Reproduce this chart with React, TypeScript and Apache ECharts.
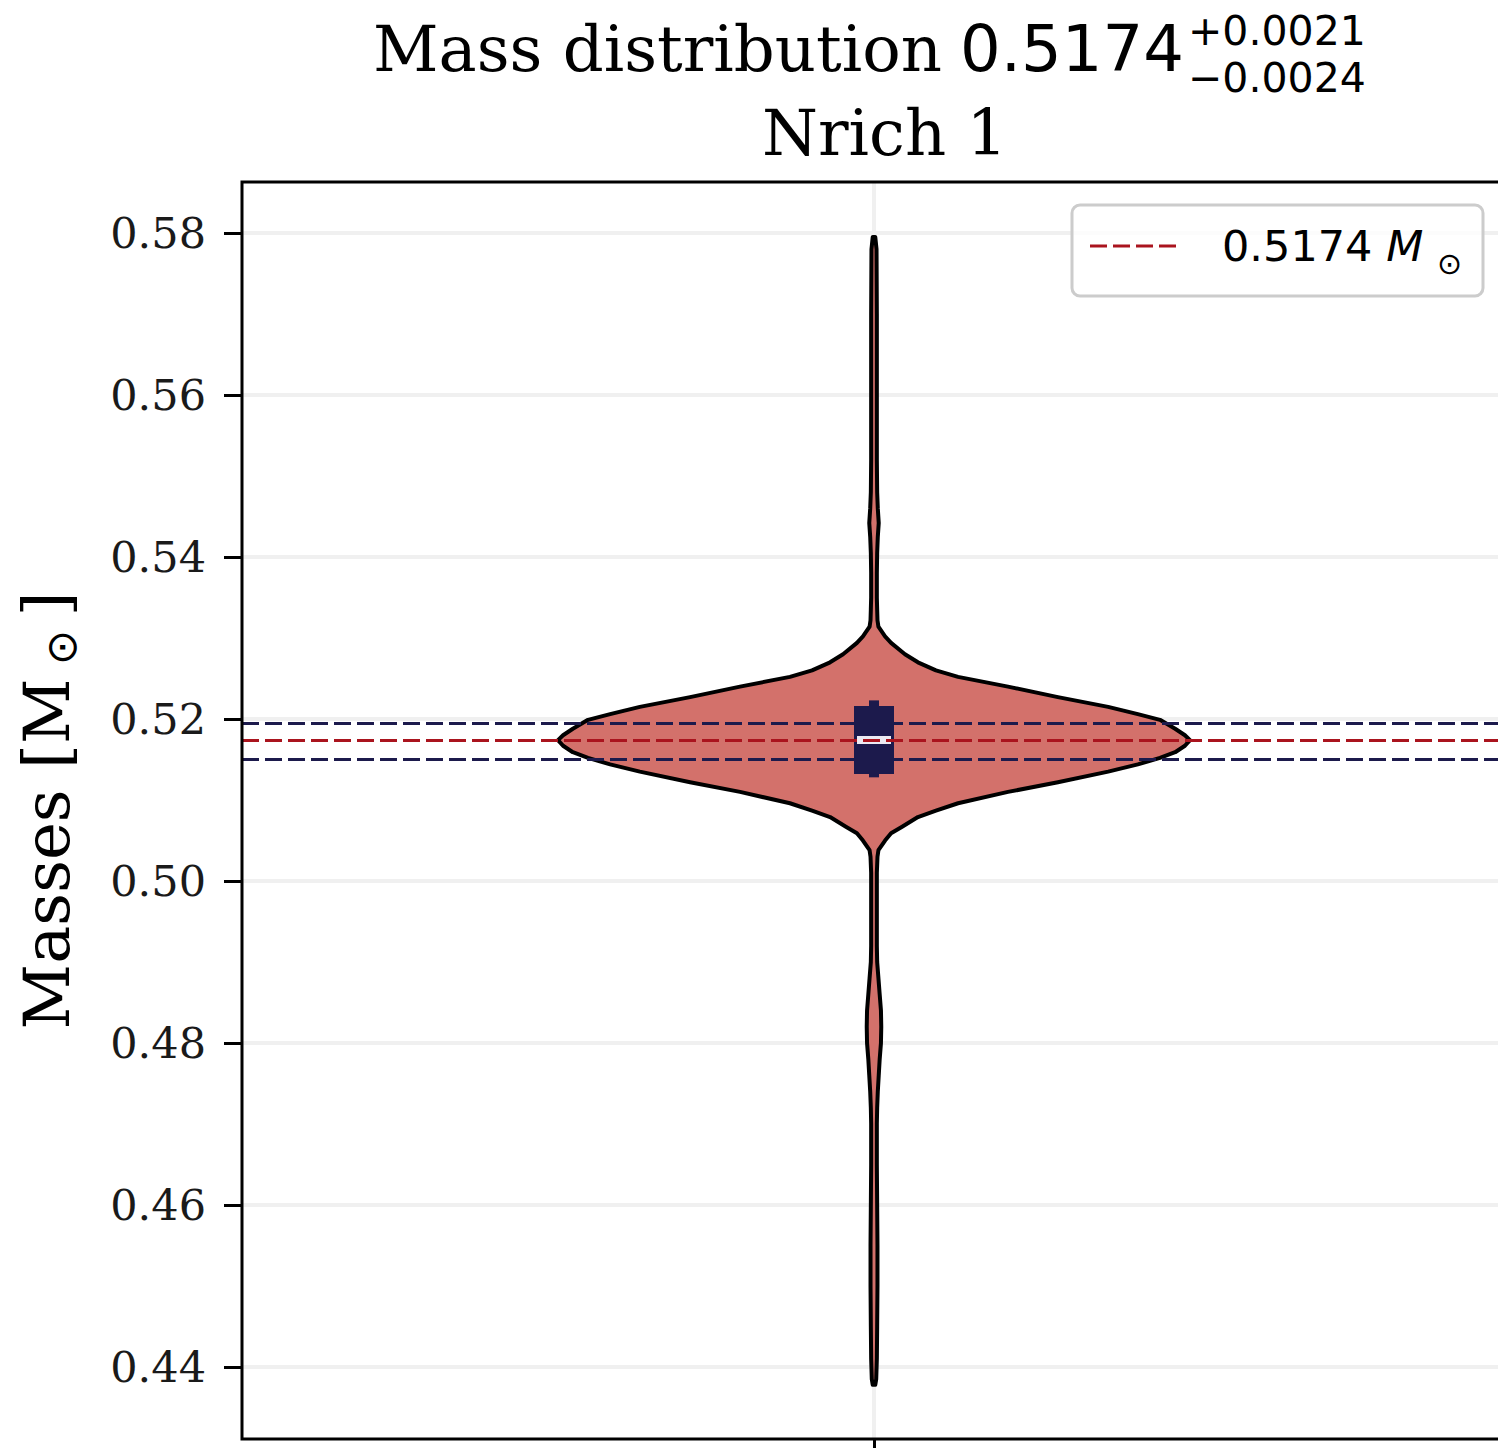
import React, { useEffect, useRef } from "react";
import * as echarts from "echarts";

// ---- data ----
const yTicks = [0.44, 0.46, 0.48, 0.5, 0.52, 0.54, 0.56, 0.58];
const yRange = [0.43111, 0.5863];
const bestMass = 0.5174;
const errPlus = 0.0021;
const errMinus = 0.0024;
// violin profile (mass, relative density, peak = 1)
const violinMass = [
  0.5795, 0.578, 0.57, 0.56, 0.552, 0.548, 0.546, 0.5442, 0.5425, 0.5405, 0.538, 0.535, 0.5335, 0.5322,
  0.5314, 0.5302, 0.5294, 0.528, 0.527, 0.526, 0.5252, 0.524, 0.5227, 0.5215, 0.5206, 0.5199, 0.5188, 0.518,
  0.5174, 0.5167, 0.5159, 0.5152, 0.5144, 0.5135, 0.5122, 0.511, 0.5096, 0.5087, 0.5079, 0.5067, 0.5059, 0.505,
  0.5038, 0.503, 0.501, 0.496, 0.492, 0.49, 0.488, 0.486, 0.484, 0.482, 0.48, 0.478, 0.476, 0.474, 0.472,
  0.47, 0.465, 0.46, 0.455, 0.45, 0.445, 0.441, 0.4385, 0.4378,
];
const violinDensity = [
  0.004, 0.008, 0.009, 0.009, 0.009, 0.01, 0.012, 0.015, 0.012, 0.01, 0.009, 0.009, 0.01, 0.011,
  0.014, 0.035, 0.054, 0.098, 0.139, 0.196, 0.266, 0.424, 0.582, 0.741, 0.835, 0.905, 0.953, 0.984,
  1, 0.984, 0.953, 0.905, 0.835, 0.741, 0.582, 0.424, 0.266, 0.196, 0.139, 0.089, 0.054, 0.035,
  0.014, 0.011, 0.009, 0.009, 0.009, 0.01, 0.014, 0.018, 0.022, 0.023, 0.022, 0.018, 0.015, 0.012, 0.01,
  0.009, 0.009, 0.01, 0.011, 0.011, 0.01, 0.009, 0.007, 0.004,
];
// inner box: [whisker low, q1, median, q3, whisker high]
const boxValues = [0.5128, 0.5132, 0.5174, 0.5216, 0.5223];

// ---- styles ----
const VIOLIN_HALF = 0.25;
const RED = "#aa141e";
const NAVY = "#1c1a4c";
const SERIF = "'DejaVu Serif', serif";
const SANS = "'DejaVu Sans', sans-serif";

export default function App() {
  const ref = useRef<HTMLDivElement>(null);
  useEffect(() => {
    document.body.style.margin = "0";
    document.body.style.overflow = "hidden";
    const chart = echarts.init(ref.current!, null, { renderer: "svg" });
    const dash = [17, 6];
    const hLine = (z: number, color: string, width: number, type: any, data: any[]) => ({
      type: "line",
      data: [[0, bestMass]],
      showSymbol: false,
      symbol: "none",
      lineStyle: { opacity: 0 },
      z,
      silent: true,
      markLine: {
        silent: true,
        symbol: "none",
        precision: 6,
        z,
        label: { show: false },
        lineStyle: { color, width, type },
        data,
      },
    });
    const option: any = {
      animation: false,
      backgroundColor: "#ffffff",
      grid: {
        left: 242,
        top: 182,
        right: 0,
        bottom: 9,
        show: true,
        borderColor: "#000",
        borderWidth: 3,
        backgroundColor: "transparent",
        z: 10,
      },
      xAxis: {
        type: "value",
        min: -0.5,
        max: 0.5,
        axisLine: { show: false, onZero: false },
        splitLine: { show: false },
        axisLabel: { show: false },
        axisTick: { show: true, customValues: [0], length: 12, lineStyle: { color: "#000", width: 3 } },
      },
      yAxis: {
        type: "value",
        min: yRange[0],
        max: yRange[1],
        axisLine: { show: false, onZero: false },
        splitLine: { show: false },
        axisTick: { show: true, customValues: yTicks, length: 18, lineStyle: { color: "#000", width: 3 } },
        axisLabel: {
          customValues: yTicks,
          formatter: (v: number) => v.toFixed(2),
          fontFamily: SERIF,
          fontSize: 43,
          color: "#1a1a1a",
          margin: 36,
        },
        name: "{a|Masses [M}{s| ⊙ }{a|]}",
        nameLocation: "middle",
        nameGap: 160,
        nameRotate: 90,
        nameTextStyle: {
          rich: {
            a: { fontFamily: SERIF, fontSize: 64, color: "#000", lineHeight: 70 },
            s: { fontFamily: SANS, fontSize: 42, color: "#000", lineHeight: 70, verticalAlign: "bottom" },
          },
        },
      },
      graphic: [
        {
          type: "text", x: 373, y: 49, z: 20,
          style: { text: "Mass distribution", font: `64px ${SERIF}`, fill: "#000", align: "left", verticalAlign: "middle" },
        },
        {
          type: "text", x: 960, y: 49, z: 20,
          style: { text: bestMass.toFixed(4), font: `64px ${SANS}`, fill: "#000", align: "left", verticalAlign: "middle" },
        },
        {
          type: "text", x: 1188, y: 31, z: 20,
          style: { text: "+" + errPlus.toFixed(4), font: `41px ${SANS}`, fill: "#000", align: "left", verticalAlign: "middle" },
        },
        {
          type: "text", x: 1188, y: 78, z: 20,
          style: { text: "\u2212" + errMinus.toFixed(4), font: `41px ${SANS}`, fill: "#000", align: "left", verticalAlign: "middle" },
        },
        {
          type: "text", x: 762, y: 133, z: 20,
          style: { text: "Nrich 1", font: `64px ${SERIF}`, fill: "#000", align: "left", verticalAlign: "middle" },
        },
        {
          type: "rect", z: 20,
          shape: { x: 1072, y: 205, width: 411, height: 91, r: 8 },
          style: { fill: "rgba(255,255,255,0.8)", stroke: "#cccccc", lineWidth: 3 },
        },
        {
          type: "line", z: 21,
          shape: { x1: 1090, y1: 246, x2: 1182, y2: 246 },
          style: { stroke: RED, lineWidth: 3, lineDash: dash },
        },
        {
          type: "text", x: 1222, y: 246, z: 21,
          style: {
            text: `{n|${bestMass.toFixed(4)} }{i|M}`,
            align: "left",
            verticalAlign: "middle",
            rich: {
              n: { fontFamily: SANS, fontSize: 43, fill: "#000", lineHeight: 50 },
              i: { fontFamily: SANS, fontStyle: "italic", fontSize: 43, fill: "#000", lineHeight: 50 },
            },
          },
        },
        {
          type: "text", x: 1437, y: 263, z: 21,
          style: { text: "⊙", font: `30px ${SANS}`, fill: "#000", align: "left", verticalAlign: "middle" },
        },
      ],
      series: [
        hLine(0, "#f0f0f0", 4, "solid", [...yTicks.map((v) => ({ yAxis: v })), { xAxis: 0 }]),
        {
          type: "custom",
          z: 2,
          data: [[0, bestMass]],
          renderItem: (_p: any, api: any) => {
            const right = violinMass.map((m, i) => api.coord([violinDensity[i] * VIOLIN_HALF, m]));
            const left = violinMass.map((m, i) => api.coord([-violinDensity[i] * VIOLIN_HALF, m])).reverse();
            return {
              type: "polygon",
              shape: { points: right.concat(left) },
              style: { fill: "#d3716b", stroke: "#000", lineWidth: 4, lineJoin: "round" },
            };
          },
        },
        hLine(3, NAVY, 3, dash, [{ yAxis: bestMass + errPlus }, { yAxis: bestMass - errMinus }]),
        {
          type: "custom",
          z: 4,
          data: [[0, bestMass]],
          renderItem: (_p: any, api: any) => {
            const [wl, q1, med, q3, wh] = boxValues;
            const cx = api.coord([0, med])[0];
            const yWl = api.coord([0, wl])[1];
            const yWh = api.coord([0, wh])[1];
            const yQ1 = api.coord([0, q1])[1];
            const yQ3 = api.coord([0, q3])[1];
            const yMed = api.coord([0, med])[1];
            return {
              type: "group",
              children: [
                { type: "line", shape: { x1: cx, y1: yWl, x2: cx, y2: yWh }, style: { stroke: NAVY, lineWidth: 10 } },
                { type: "rect", shape: { x: cx - 20, y: yQ3, width: 40, height: yQ1 - yQ3 }, style: { fill: NAVY } },
                { type: "rect", shape: { x: cx - 17, y: yMed - 4, width: 34, height: 8 }, style: { fill: "#eceaf2" } },
              ],
            };
          },
        },
        hLine(5, RED, 3, dash, [{ yAxis: bestMass }]),
      ],
    };
    chart.setOption(option);
    return () => chart.dispose();
  }, []);
  return <div ref={ref} style={{ width: 1506, height: 1448 }} />;
}
